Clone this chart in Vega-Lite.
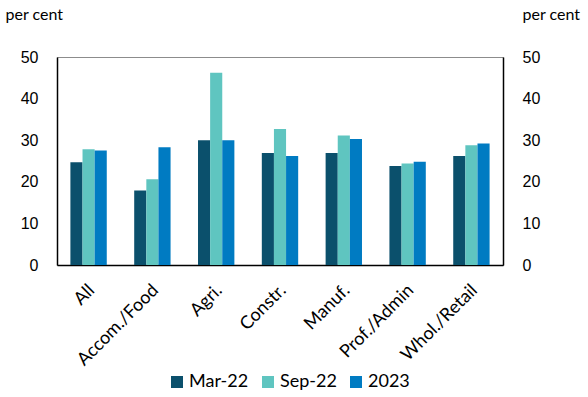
{
  "$schema": "https://vega.github.io/schema/vega-lite/v6.json",
  "autosize": "none",
  "width": 446,
  "height": 208,
  "padding": {"left": 57, "top": 57, "right": 85, "bottom": 132},
  "background": "white",
  "config": {
    "font": "Lato",
    "view": {"stroke": "#8c8c8c", "strokeWidth": 1},
    "axis": {"labelFont": "Lato", "titleFont": "Lato", "labelColor": "#000", "titleColor": "#000"}
  },
  "data": {
    "values": [
      {"sector": "All", "period": "Mar-22", "value": 24.7},
      {"sector": "All", "period": "Sep-22", "value": 27.8},
      {"sector": "All", "period": "2023", "value": 27.5},
      {"sector": "Accom./Food", "period": "Mar-22", "value": 17.9},
      {"sector": "Accom./Food", "period": "Sep-22", "value": 20.6},
      {"sector": "Accom./Food", "period": "2023", "value": 28.3},
      {"sector": "Agri.", "period": "Mar-22", "value": 30.0},
      {"sector": "Agri.", "period": "Sep-22", "value": 46.2},
      {"sector": "Agri.", "period": "2023", "value": 30.0},
      {"sector": "Constr.", "period": "Mar-22", "value": 26.9},
      {"sector": "Constr.", "period": "Sep-22", "value": 32.7},
      {"sector": "Constr.", "period": "2023", "value": 26.2},
      {"sector": "Manuf.", "period": "Mar-22", "value": 26.9},
      {"sector": "Manuf.", "period": "Sep-22", "value": 31.1},
      {"sector": "Manuf.", "period": "2023", "value": 30.3},
      {"sector": "Prof./Admin", "period": "Mar-22", "value": 23.8},
      {"sector": "Prof./Admin", "period": "Sep-22", "value": 24.4},
      {"sector": "Prof./Admin", "period": "2023", "value": 24.8},
      {"sector": "Whol./Retail", "period": "Mar-22", "value": 26.2},
      {"sector": "Whol./Retail", "period": "Sep-22", "value": 28.8},
      {"sector": "Whol./Retail", "period": "2023", "value": 29.2}
    ]
  },
  "encoding": {
    "x": {
      "field": "sector", "type": "nominal", "sort": null,
      "scale": {"paddingInner": 0.43, "paddingOuter": 0.21},
      "axis": {"title": null, "labelAngle": -45, "labelFontSize": 18, "ticks": false, "domainColor": "#000", "domainWidth": 1.5, "labelPadding": 16, "labelOffset": -3}
    },
    "xOffset": {"field": "period", "type": "nominal", "sort": ["Mar-22", "Sep-22", "2023"]},
    "y": {"field": "value", "type": "quantitative", "scale": {"domain": [0, 50]}}
  },
  "layer": [
    {
      "mark": {"type": "bar"},
      "encoding": {
        "color": {
          "field": "period", "type": "nominal",
          "sort": ["Mar-22", "Sep-22", "2023"],
          "scale": {"domain": ["Mar-22", "Sep-22", "2023"], "range": ["#0b506c", "#5fc5c0", "#007bc2"]},
          "legend": {
            "title": null, "orient": "none", "direction": "horizontal",
            "legendX": 111, "legendY": 316,
            "symbolType": "square", "symbolSize": 144, "symbolStrokeWidth": 0,
            "labelFontSize": 18, "labelFont": "Lato", "labelColor": "#000", "columnPadding": 10, "labelOffset": 3
          }
        },
        "y": {
          "field": "value", "type": "quantitative",
          "axis": {
            "title": "per cent", "titleAngle": 0, "titleAlign": "left", "titleBaseline": "alphabetic",
            "titleX": -52, "titleY": -38, "titleFontSize": 16, "titleFontWeight": "normal",
            "values": [0, 10, 20, 30, 40, 50], "labelFont": "Liberation Sans", "labelFontSize": 16, "ticks": false, "grid": false,
            "labelPadding": 19, "domainColor": "#000", "domainWidth": 1.5
          }
        }
      }
    },
    {
      "mark": {"type": "bar", "opacity": 0},
      "encoding": {
        "y": {
          "field": "value", "type": "quantitative",
          "axis": {
            "orient": "right",
            "title": "per cent", "titleAngle": 0, "titleAlign": "left", "titleBaseline": "alphabetic",
            "titleX": 19, "titleY": -38, "titleFontSize": 16, "titleFontWeight": "normal",
            "values": [0, 10, 20, 30, 40, 50], "labelFont": "Liberation Sans", "labelFontSize": 16, "ticks": false, "grid": false,
            "labelPadding": 19, "domainColor": "#000", "domainWidth": 1.5
          }
        }
      }
    }
  ],
  "resolve": {"axis": {"y": "independent"}}
}
